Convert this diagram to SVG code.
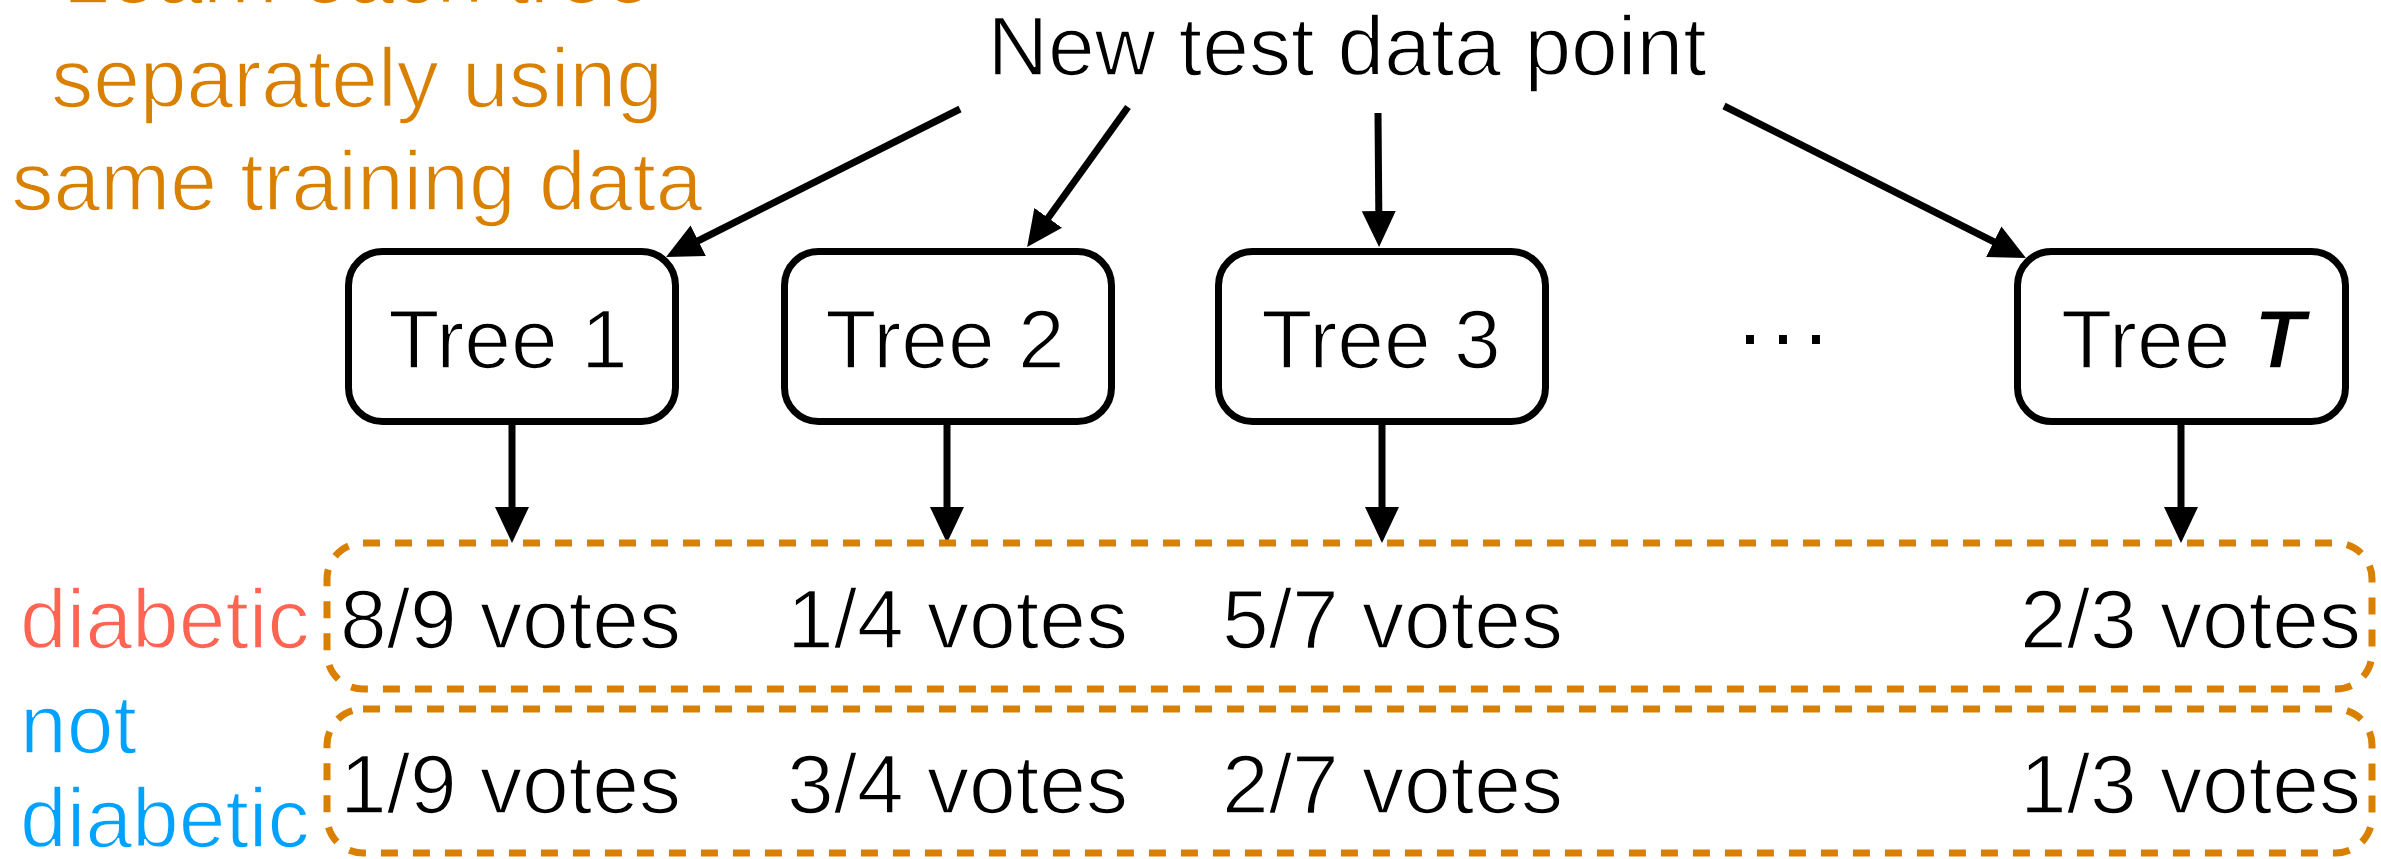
<svg xmlns="http://www.w3.org/2000/svg" width="2381" height="859" viewBox="0 0 2381 859">
<defs>
<style>
text{font-family:"Liberation Sans",Arial,sans-serif;font-size:84px;fill:#000;stroke:#fff;stroke-width:1.6}
.or{fill:#D98000}
.red{fill:#FF6452}
.blue{fill:#00A2FF}
.box{fill:#fff;stroke:#000;stroke-width:7}
.dash{fill:none;stroke:#D98000;stroke-width:7;stroke-dasharray:17 15}
.arr{stroke:#000;stroke-width:7;fill:none;marker-end:url(#ah)}
.c{text-anchor:middle}
</style>
<marker id="ah" markerUnits="userSpaceOnUse" markerWidth="40" markerHeight="36" refX="26" refY="17" orient="auto" viewBox="0 0 40 34">
<path d="M0,0 L36,17 L0,34 Z" fill="#000"/>
</marker>
</defs>
<rect width="2381" height="859" fill="#fff"/>
<g id="caption">
<text class="or c" x="357" y="3">Learn each tree</text>
<text class="or c" x="357" y="107">separately using</text>
<text class="or c" x="357" y="210">same training data</text>
</g>
<g id="source"><text class="c" x="1347" y="75">New test data point</text></g>
<g id="connectors">
<line class="arr" x1="960" y1="109" x2="675" y2="252.5"/>
<line class="arr" x1="1128" y1="107" x2="1033" y2="239"/>
<line class="arr" x1="1378" y1="113" x2="1379" y2="237"/>
<line class="arr" x1="1724" y1="106" x2="2017" y2="253.5"/>
<line class="arr" x1="512" y1="424" x2="512" y2="533"/>
<line class="arr" x1="947" y1="424" x2="947" y2="533"/>
<line class="arr" x1="1382" y1="424" x2="1382" y2="533"/>
<line class="arr" x1="2181" y1="424" x2="2181" y2="533"/>
</g>
<g id="tree1"><rect class="box" x="348.5" y="251.5" width="327" height="170" rx="34"/><text class="c" x="508" y="368">Tree 1</text></g>
<g id="tree2"><rect class="box" x="784.5" y="251.5" width="327" height="170" rx="34"/><text class="c" x="945" y="368">Tree 2</text></g>
<g id="tree3"><rect class="box" x="1218.5" y="251.5" width="327" height="170" rx="34"/><text class="c" x="1381" y="368">Tree 3</text></g>
<g id="ellipsis"><text x="1736" y="362" style="letter-spacing:5px;stroke:none">···</text></g>
<g id="treeT"><rect class="box" x="2017.5" y="251.5" width="328" height="170" rx="34"/><text class="c" x="2183" y="368">Tree <tspan font-style="italic" font-weight="bold">T</tspan></text></g>
<g id="diabetic-row">
<rect class="dash" x="327" y="543" width="2045" height="146" rx="36"/>
<text class="red" x="20" y="648">diabetic</text>
<text x="340" y="648">8/9 votes</text>
<text x="787" y="648">1/4 votes</text>
<text x="1222" y="648">5/7 votes</text>
<text x="2020" y="648">2/3 votes</text>
</g>
<g id="not-diabetic-row">
<rect class="dash" x="327" y="709" width="2045" height="144" rx="36"/>
<text class="blue" x="20" y="753">not</text>
<text class="blue" x="20" y="847">diabetic</text>
<text x="340" y="813">1/9 votes</text>
<text x="787" y="813">3/4 votes</text>
<text x="1222" y="813">2/7 votes</text>
<text x="2020" y="813">1/3 votes</text>
</g>
</svg>
